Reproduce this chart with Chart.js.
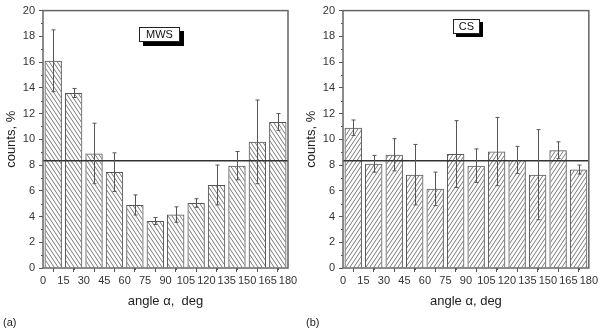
<!DOCTYPE html>
<html>
<head>
<meta charset="utf-8">
<script src="https://cdn.jsdelivr.net/npm/chart.js@4.4.1/dist/chart.umd.min.js"></script>
<style>
  html, body { margin: 0; padding: 0; background: #fff; }
  #wrap { position: relative; width: 600px; height: 335px; overflow: hidden; font-family: "Liberation Sans", Arial, sans-serif; }
  canvas { position: absolute; top: 0; }
  #cA { left: 0; }
  #cB { left: 300px; }
  .tag { position: absolute; box-sizing: border-box; border: 1px solid #222; background: #fff; font-size: 11px; line-height: 13px; text-align: center; color: #111; }
  .panel { position: absolute; font-size: 11px; color: #222; }
</style>
</head>
<body>
<div id="wrap">
  <canvas id="cA" width="300" height="335"></canvas>
  <canvas id="cB" width="300" height="335"></canvas>
  <div class="tag" style="left:139px; top:27px; width:41px; height:15px; box-shadow:4px 4px 0 #000;">MWS</div>
  <div class="tag" style="left:453px; top:19px; width:27px; height:15px; box-shadow:3px 3px 0 #000;">CS</div>
  <div class="panel" style="left:3px; top:316px;">(a)</div>
  <div class="panel" style="left:306px; top:316px;">(b)</div>
</div>
<script>
// ---- data ----
const angleCenters = [7.5, 22.5, 37.5, 52.5, 67.5, 82.5, 97.5, 112.5, 127.5, 142.5, 157.5, 172.5];
const xTickValues = [0, 15, 30, 45, 60, 75, 90, 105, 120, 135, 150, 165, 180];
const mwsCounts = [16.1, 13.6, 8.9, 7.45, 4.9, 3.65, 4.15, 5.05, 6.45, 7.95, 9.8, 11.35];
const mwsErrors = [2.4, 0.35, 2.35, 1.5, 0.78, 0.27, 0.6, 0.33, 1.55, 1.1, 3.25, 0.65];
const csCounts = [10.9, 8.1, 8.8, 7.25, 6.15, 8.85, 7.95, 9.05, 8.4, 7.25, 9.15, 7.65];
const csErrors = [0.6, 0.65, 1.25, 2.35, 1.3, 2.6, 1.3, 2.65, 1.05, 3.5, 0.65, 0.35];
const uniformLevel = 8.33;

function hatch(dir) {
  const c = document.createElement('canvas');
  c.width = 4; c.height = 6;
  const g = c.getContext('2d');
  g.strokeStyle = '#6a6a6a';
  g.lineWidth = 0.9;
  g.beginPath();
  for (const k of [-4, 0, 4]) {
    if (dir === 'back') { g.moveTo(k, 0); g.lineTo(k + 4, 6); }
    else { g.moveTo(k, 6); g.lineTo(k + 4, 0); }
  }
  g.stroke();
  return g.createPattern(c, 'repeat');
}

const decorPlugin = {
  id: 'decor',
  afterDatasetsDraw(chart, args, opts) {
    const ctx = chart.ctx, xs = chart.scales.x, ys = chart.scales.y;
    const a = chart.chartArea;
    ctx.save();
    // error bars
    ctx.strokeStyle = '#555';
    ctx.lineWidth = 1;
    const vals = opts.values, errs = opts.errors;
    for (let i = 0; i < vals.length; i++) {
      const px = Math.round(xs.getPixelForValue(angleCenters[i])) + 0.5;
      const top = ys.getPixelForValue(vals[i] + errs[i]);
      const bot = ys.getPixelForValue(vals[i] - errs[i]);
      ctx.beginPath();
      ctx.moveTo(px, top); ctx.lineTo(px, bot);
      ctx.moveTo(px - 2, top); ctx.lineTo(px + 2, top);
      ctx.moveTo(px - 2, bot); ctx.lineTo(px + 2, bot);
      ctx.stroke();
    }
    // minor ticks
    ctx.strokeStyle = '#555';
    ctx.beginPath();
    for (let v = 1; v < 20; v += 2) {
      const py = Math.round(ys.getPixelForValue(v)) + 0.5;
      ctx.moveTo(a.left - 2, py); ctx.lineTo(a.left, py);
    }
    for (let i = 0; i < angleCenters.length; i++) {
      const px = Math.round(xs.getPixelForValue(angleCenters[i])) + 0.5;
      ctx.moveTo(px, a.bottom); ctx.lineTo(px, a.bottom + 2);
    }
    ctx.stroke();
    // frame
    ctx.strokeStyle = '#666';
    ctx.lineWidth = 1.5;
    ctx.strokeRect(a.left, a.top, a.right - a.left, a.bottom - a.top);
    ctx.restore();
  }
};

function makeChart(id, values, errors, dir, rightPad, xTitle) {
  const ctx = document.getElementById(id).getContext('2d');
  return new Chart(ctx, {
    type: 'bar',
    data: {
      datasets: [
        {
          type: 'line',
          data: [{ x: 0, y: uniformLevel }, { x: 180, y: uniformLevel }],
          borderColor: '#333',
          borderWidth: 1.5,
          pointRadius: 0,
          order: 0
        },
        {
          type: 'bar',
          data: angleCenters.map((x, i) => ({ x: x, y: values[i] })),
          backgroundColor: hatch(dir),
          borderColor: '#555',
          borderWidth: 1,
          barPercentage: 0.85,
          categoryPercentage: 1,
          order: 1
        }
      ]
    },
    options: {
      responsive: false,
      animation: false,
      devicePixelRatio: 1,
      layout: { padding: { left: 0, right: rightPad, top: 9, bottom: 0 } },
      plugins: {
        legend: { display: false },
        tooltip: { enabled: false },
        decor: { values: values, errors: errors }
      },
      scales: {
        x: {
          type: 'linear',
          min: 0, max: 180,
          offset: false,
          afterBuildTicks: s => { s.ticks = xTickValues.map(v => ({ value: v })); },
          afterFit: s => { s.height = 67; },
          ticks: { autoSkip: false, maxRotation: 0, padding: 2, color: '#333',
                   font: { family: 'Liberation Sans', size: 11 } },
          grid: { display: true, drawOnChartArea: false, tickLength: 4, color: '#555' },
          border: { display: false },
          title: { display: true, text: xTitle, color: '#222', padding: { top: 0, bottom: 26 },
                   font: { family: 'Liberation Sans', size: 13 } }
        },
        y: {
          min: 0, max: 20,
          afterFit: s => { s.width = 43; },
          ticks: { stepSize: 2, padding: 4, color: '#333',
                   font: { family: 'Liberation Sans', size: 11 } },
          grid: { display: true, drawOnChartArea: false, tickLength: 4, color: '#555' },
          border: { display: false },
          title: { display: true, text: 'counts, %', color: '#222', padding: { top: 4, bottom: 0 },
                   font: { family: 'Liberation Sans', size: 13 } }
        }
      }
    },
    plugins: [decorPlugin]
  });
}

makeChart('cA', mwsCounts, mwsErrors, 'back', 12, 'angle \u03b1,  deg');
makeChart('cB', csCounts, csErrors, 'fwd', 11, 'angle \u03b1, deg');
</script>
</body>
</html>
